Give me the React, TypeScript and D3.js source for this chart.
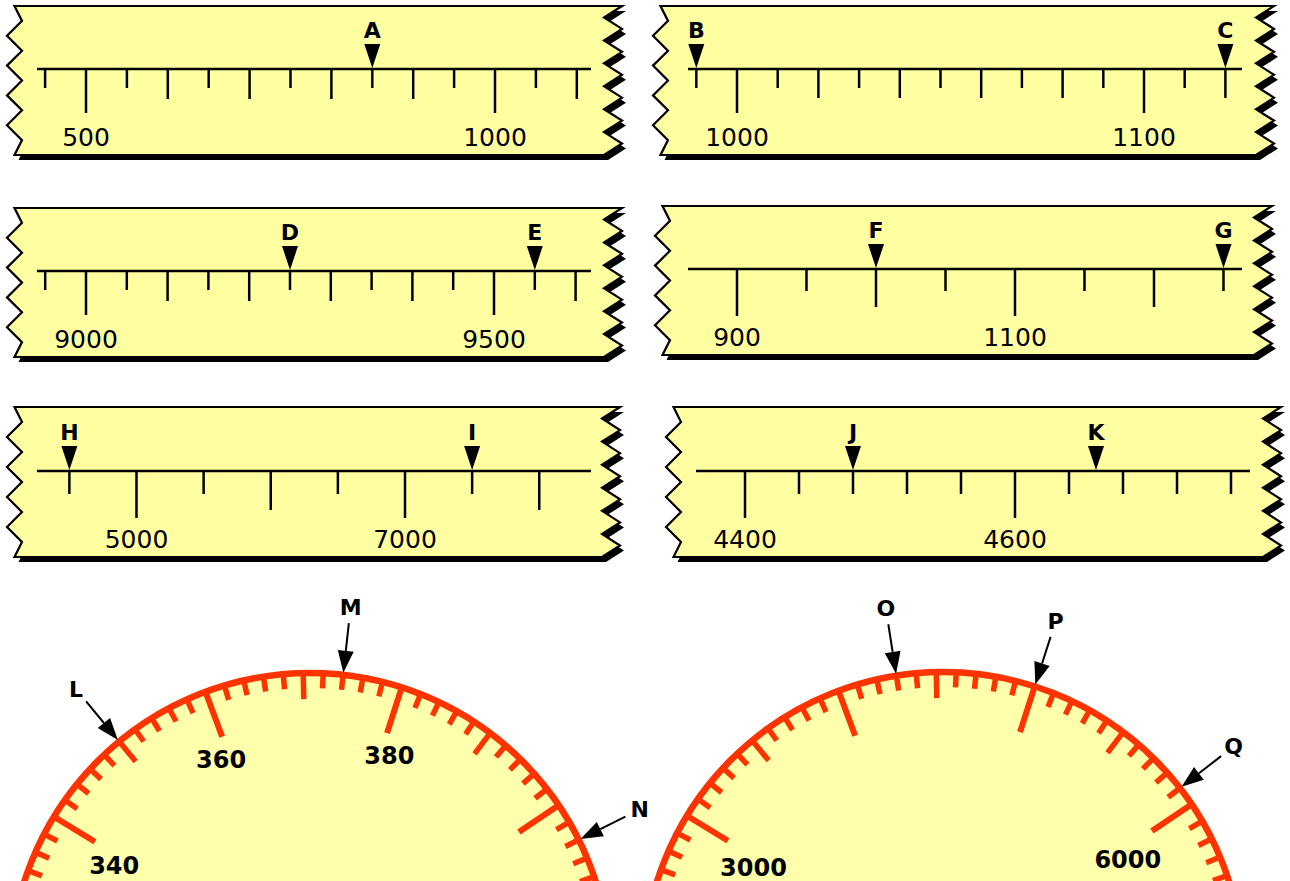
import React from "react";
import * as d3 from "d3";

// ---------- Number-line strips: data ----------
const s1Labels = [500, 1000];
const s1Ticks = { from: 450, to: 1100, step: 50, major: 500, medium: 100 };
const s1Markers: [string, number][] = [["A", 850]];

const s2Labels = [1000, 1100];
const s2Ticks = { from: 990, to: 1120, step: 10, major: 100, medium: 20 };
const s2Markers: [string, number][] = [["B", 990], ["C", 1120]];

const s3Labels = [9000, 9500];
const s3Ticks = { from: 8950, to: 9600, step: 50, major: 500, medium: 100 };
const s3Markers: [string, number][] = [["D", 9250], ["E", 9550]];

const s4Labels = [900, 1100];
const s4Ticks = { from: 900, to: 1250, step: 50, major: 200, medium: 100 };
const s4Markers: [string, number][] = [["F", 1000], ["G", 1250]];

const s5Labels = [5000, 7000];
const s5Ticks = { from: 4500, to: 8000, step: 500, major: 2000, medium: 1000 };
const s5Markers: [string, number][] = [["H", 4500], ["I", 7500]];

const s6Labels = [4400, 4600];
const s6Ticks = { from: 4400, to: 4760, step: 40, major: 200, medium: 0 };
const s6Markers: [string, number][] = [["J", 4480], ["K", 4660]];

// ---------- Dials: data ----------
const d1Domain = [340, 400];
const d1Labels = [340, 360, 380];
const d1Ticks = { from: 320, to: 420, step: 2, major: 20, medium: 10 };
const d1Markers: [string, number][] = [["L", 350], ["M", 374], ["N", 404]];

const d2Domain = [3000, 6000];
const d2Labels = [3000, 6000];
const d2Ticks = { from: 2500, to: 6500, step: 100, major: 1000, medium: 500 };
const d2Markers: [string, number][] = [["O", 4300], ["P", 5000], ["Q", 5900]];

// ---------- Layout ----------
const W = 1290;
const H = 881;
const STRIP_FILL = "#ffffa2";
const DIAL_FILL = "#ffffac";
const RED = "#ff3300";
const FONT = "'DejaVu Sans', Verdana, sans-serif";

type Layout = {
  x0: number; x1: number; y0: number; y1: number; axisY: number;
  ax: [number, number]; px: [number, number]; lens: [number, number, number];
};

const strips = [
  { labels: s1Labels, ticks: s1Ticks, markers: s1Markers,
    lay: { x0: 7, x1: 604, y0: 6, y1: 155, axisY: 69, ax: [37, 591], px: [86, 495], lens: [19, 30, 44] } as Layout },
  { labels: s2Labels, ticks: s2Ticks, markers: s2Markers,
    lay: { x0: 653, x1: 1256, y0: 6, y1: 155, axisY: 69, ax: [688, 1242], px: [737, 1144], lens: [19, 29, 44] } as Layout },
  { labels: s3Labels, ticks: s3Ticks, markers: s3Markers,
    lay: { x0: 7, x1: 604, y0: 208, y1: 357, axisY: 271, ax: [37, 591], px: [86, 494], lens: [19, 30, 44] } as Layout },
  { labels: s4Labels, ticks: s4Ticks, markers: s4Markers,
    lay: { x0: 655, x1: 1254, y0: 206, y1: 355, axisY: 269, ax: [688, 1242], px: [737, 1015], lens: [22, 38, 47] } as Layout },
  { labels: s5Labels, ticks: s5Ticks, markers: s5Markers,
    lay: { x0: 7, x1: 602, y0: 407, y1: 557, axisY: 471, ax: [37, 591], px: [136.5, 405], lens: [23, 39, 47] } as Layout },
  { labels: s6Labels, ticks: s6Ticks, markers: s6Markers,
    lay: { x0: 666, x1: 1263, y0: 407, y1: 557, axisY: 471, ax: [696, 1250], px: [745, 1015], lens: [23, 39, 47] } as Layout },
];

const dials = [
  { domain: d1Domain, labels: d1Labels, ticks: d1Ticks, markers: d1Markers, cx: 310, cy: 973 },
  { domain: d2Domain, labels: d2Labels, ticks: d2Ticks, markers: d2Markers, cx: 943, cy: 972 },
];

function stripPath(l: Layout): string {
  const al = 15, ar = 18, nl = 5, nr = 6;
  const left: [number, number][] = [];
  for (let k = 0; k <= 2 * nl; k++) {
    const y = l.y0 + (k * (l.y1 - l.y0)) / (2 * nl);
    const x = k === 0 || k === 2 * nl ? l.x0 + al * 0.5 : k % 2 === 1 ? l.x0 + al : l.x0;
    left.push([x, y]);
  }
  const right: [number, number][] = [];
  const segs = 2 * nr + 1;
  for (let k = 0; k <= segs; k++) {
    const y = l.y0 + (k * (l.y1 - l.y0)) / segs;
    const x = k % 2 === 0 ? l.x1 + ar : l.x1;
    right.push([x, y]);
  }
  const pts = [left[0], ...right, ...left.slice().reverse()];
  return d3.line()(pts as [number, number][]) + "Z";
}

function tickValues(t: { from: number; to: number; step: number }) {
  const out: number[] = [];
  for (let v = t.from; v <= t.to + 1e-9; v += t.step) out.push(v);
  return out;
}

const rad = (deg: number) => (deg * Math.PI) / 180;
const polar = (cx: number, cy: number, r: number, deg: number): [number, number] => [
  cx + r * Math.sin(rad(deg)),
  cy - r * Math.cos(rad(deg)),
];

function Strip({ s }: { s: (typeof strips)[number] }) {
  const l = s.lay;
  const x = d3.scaleLinear().domain(s.labels).range(l.px);
  const base = s.labels[0];
  const kind = (v: number) => {
    const d = v - base;
    if (Math.abs(d % s.ticks.major) < 1e-6) return 2;
    if (s.ticks.medium && Math.abs(d % s.ticks.medium) < 1e-6) return 1;
    return 0;
  };
  const path = stripPath(l);
  return (
    <g>
      <path d={path} transform="translate(4,5)" fill="#000" />
      <path d={path} fill={STRIP_FILL} stroke="#000" strokeWidth={2.2} strokeLinejoin="miter" />
      <line x1={l.ax[0]} x2={l.ax[1]} y1={l.axisY} y2={l.axisY} stroke="#000" strokeWidth={2.6} />
      {tickValues(s.ticks).map((v) => (
        <line key={v} x1={x(v)} x2={x(v)} y1={l.axisY} y2={l.axisY + l.lens[kind(v)]} stroke="#000" strokeWidth={2.5} />
      ))}
      {s.labels.map((v) => (
        <text key={v} x={x(v)} y={l.axisY + 68} textAnchor="middle" dominantBaseline="central"
          fontFamily={FONT} fontSize={25} fill="#000">{v}</text>
      ))}
      {s.markers.map(([name, v]) => {
        const mx = x(v);
        const tip = l.axisY - 1;
        return (
          <g key={name}>
            <path d={`M${mx - 8},${tip - 24}L${mx + 8},${tip - 24}L${mx},${tip}Z`} fill="#000" />
            <text x={mx} y={l.axisY - 39} textAnchor="middle" dominantBaseline="central"
              fontFamily={FONT} fontWeight="bold" fontSize={22} fill="#000">{name}</text>
          </g>
        );
      })}
    </g>
  );
}

function Dial({ d }: { d: (typeof dials)[number] }) {
  const R = 300;
  const ang = d3.scaleLinear().domain(d.domain).range([-58.6, 56]);
  const base = d.domain[0];
  const lens = [15, 26, 48];
  const kind = (v: number) => {
    const q = v - base;
    if (Math.abs(q % d.ticks.major) < 1e-6) return 2;
    if (Math.abs(q % d.ticks.medium) < 1e-6) return 1;
    return 0;
  };
  return (
    <g>
      <circle cx={d.cx} cy={d.cy} r={R} fill={DIAL_FILL} stroke={RED} strokeWidth={6.5} />
      {tickValues(d.ticks).map((v) => {
        const a = ang(v);
        const [xa, ya] = polar(d.cx, d.cy, R, a);
        const [xb, yb] = polar(d.cx, d.cy, R - lens[kind(v)], a);
        return <line key={v} x1={xa} y1={ya} x2={xb} y2={yb} stroke={RED} strokeWidth={kind(v) === 2 ? 6 : 5.5} />;
      })}
      {d.labels.map((v) => {
        const a = ang(v);
        const s = Math.abs(Math.sin(rad(a)));
        const c = Math.abs(Math.cos(rad(a)));
        const hw = String(v).length * 8.5;
        const ext = s * hw + c * 10.5;
        const [tx, ty] = polar(d.cx, d.cy, 252 - ext, a + Math.sign(a) * 2);
        return (
          <text key={v} x={tx} y={ty + 3} textAnchor="middle" dominantBaseline="central"
            fontFamily={FONT} fontWeight="bold" fontSize={24} fill="#000">{v}</text>
        );
      })}
      {d.markers.map(([name, v]) => {
        const a = ang(v);
        const [tx, ty] = polar(d.cx, d.cy, R + 2, a);
        const [hx, hy] = polar(d.cx, d.cy, R + 24, a);
        const [sx, sy] = polar(d.cx, d.cy, R + 52, a);
        const [lx, ly] = polar(d.cx, d.cy, R + 68, a);
        const px = Math.cos(rad(a)), py = Math.sin(rad(a));
        const w = 8;
        return (
          <g key={name}>
            <line x1={sx} y1={sy} x2={hx} y2={hy} stroke="#000" strokeWidth={2} />
            <path d={`M${tx},${ty}L${hx + px * w},${hy + py * w}L${hx - px * w},${hy - py * w}Z`} fill="#000" />
            <text x={lx} y={ly} textAnchor="middle" dominantBaseline="central"
              fontFamily={FONT} fontWeight="bold" fontSize={22} fill="#000">{name}</text>
          </g>
        );
      })}
    </g>
  );
}

export default function App() {
  return (
    <svg width={W} height={H} viewBox={`0 0 ${W} ${H}`}
      style={{ position: "absolute", left: 0, top: 0, background: "#fff", display: "block" }}>
      <rect width={W} height={H} fill="#fff" />
      {strips.map((s, i) => <Strip key={i} s={s} />)}
      {dials.map((d, i) => <Dial key={i} d={d} />)}
    </svg>
  );
}
